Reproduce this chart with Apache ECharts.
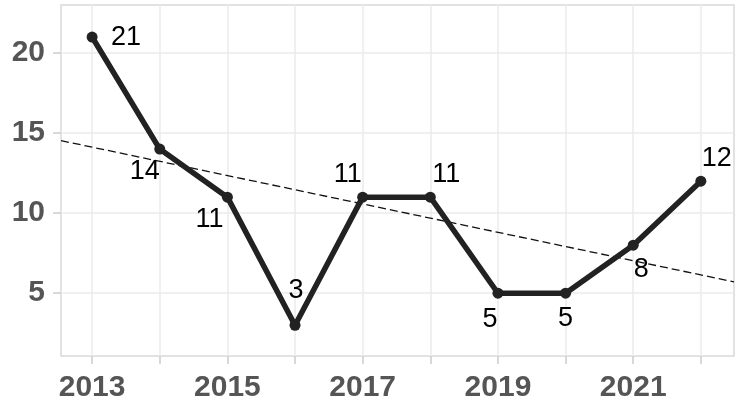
<!DOCTYPE html>
<html>
<head>
<meta charset="utf-8">
<title>Trend</title>
<script src="https://cdn.jsdelivr.net/npm/echarts@6/dist/echarts.min.js"></script>
<style>
  html, body { margin: 0; padding: 0; background: #fff; }
  #main { width: 743px; height: 403px; }
</style>
</head>
<body>
<div id="main"></div>
<script>
// data
var years = [2013, 2014, 2015, 2016, 2017, 2018, 2019, 2020, 2021, 2022];
var counts = [21, 14, 11, 3, 11, 11, 5, 5, 8, 12];
// dashed trend line, ends read at the panel edges
var trendX = [2012.54, 2022.49];
var trendY = [14.53, 5.71];
var xTicks = [2013, 2014, 2015, 2016, 2017, 2018, 2019, 2020, 2021, 2022];
var xLabels = [2013, 2015, 2017, 2019, 2021];
var yTicks = [5, 10, 15, 20];

// where each value label sits relative to its point (px)
var labelOffsets = [[34, 1], [-15, 22], [-18, 22], [1, -35], [-15, -23],
                    [16, -23], [-8, 26], [0, 25], [8, 24], [16, -23]];

var font = 'Liberation Sans, Arial, sans-serif';
var chart = echarts.init(document.getElementById('main'));

var mainData = [];
for (var i = 0; i < years.length; i++) {
  mainData.push({
    value: [years[i], counts[i]],
    label: { offset: labelOffsets[i] }
  });
}
var trendData = [];
for (var j = 0; j < trendX.length; j++) {
  trendData.push([trendX[j], trendY[j]]);
}

var option = {
  backgroundColor: '#fff',
  animation: false,
  grid: {
    left: 61, right: 9, top: 5, bottom: 47,
    show: true,
    backgroundColor: '#fff',
    borderColor: '#d9d9d9',
    borderWidth: 1.5
  },
  xAxis: {
    type: 'value',
    min: 2012.54,
    max: 2022.49,
    axisLine: { show: false },
    axisTick: {
      show: true, length: 8, customValues: xTicks,
      lineStyle: { color: '#cccccc', width: 1.5 }
    },
    splitLine: { show: true, lineStyle: { color: '#ebebeb', width: 1.5 } },
    axisLabel: {
      customValues: xLabels,
      margin: 17,
      formatter: function (v) { return String(v); },
      fontFamily: font, fontSize: 30, fontWeight: 'bold', color: '#555'
    }
  },
  yAxis: {
    type: 'value',
    min: 1.08,
    max: 23,
    axisLine: { show: false },
    axisTick: {
      show: true, length: 8, customValues: yTicks,
      lineStyle: { color: '#cccccc', width: 1.5 }
    },
    splitLine: { show: true, lineStyle: { color: '#ebebeb', width: 1.5 } },
    axisLabel: {
      customValues: yTicks,
      margin: 16,
      fontFamily: font, fontSize: 30, fontWeight: 'bold', color: '#555'
    }
  },
  series: [
    {
      type: 'line',
      data: trendData,
      symbol: 'none',
      silent: true,
      lineStyle: { color: '#111', width: 1.3, type: [8, 4] },
      z: 3
    },
    {
      type: 'line',
      data: mainData,
      symbol: 'circle',
      symbolSize: 11,
      itemStyle: { color: '#222' },
      lineStyle: { color: '#222', width: 5.5 },
      label: {
        show: true,
        position: 'inside',
        align: 'center',
        verticalAlign: 'middle',
        fontFamily: font,
        fontSize: 27,
        color: '#000',
        formatter: function (p) { return p.value[1]; }
      },
      z: 4
    }
  ]
};
chart.setOption(option);
</script>
</body>
</html>
